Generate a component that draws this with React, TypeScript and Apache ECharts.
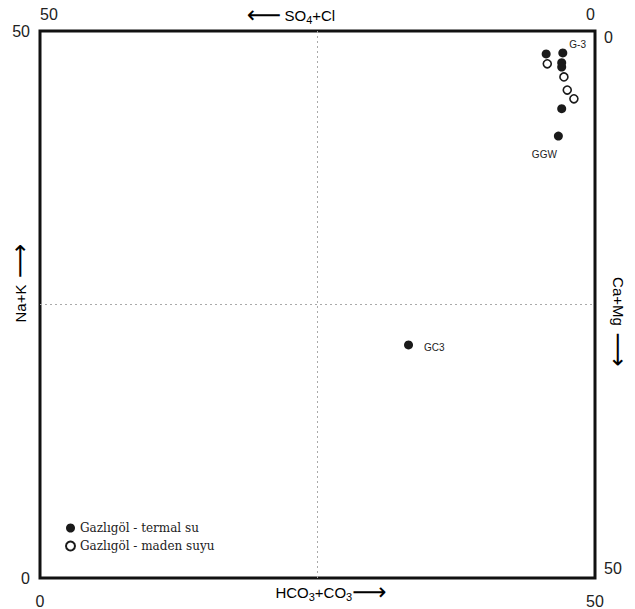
import React, { useEffect, useRef } from "react";
import * as echarts from "echarts";

// Gazlıgöl waters — Schoeller/Langelier-Ludwig square diagram (meq %)
const termalNames = ["", "G-3", "", "", "", "GGW", "GC3"];
const termalX = [45.6, 47.1, 47.0, 47.0, 47.0, 46.7, 33.2];
const termalY = [47.9, 48.0, 47.1, 46.7, 42.9, 40.4, 21.3];

const madenX = [45.7, 47.2, 47.5, 48.1];
const madenY = [47.0, 45.8, 44.6, 43.8];

const axisMin = 0;
const axisMax = 50;
const midValue = 25;
// Ca+Mg scale on the right side, 0 at the top
const rightTicks = [0, 50];

const seriesNames = ["Gazlıgöl - termal su", "Gazlıgöl - maden suyu"];

const labelFont = "Liberation Sans, Arial, sans-serif";

// label placement for the named samples
const sampleLabelStyle: Record<string, any> = {
  "G-3": { position: "right", offset: [-3, -8] },
  GGW: { position: "bottom", offset: [-14, 4] },
  GC3: { position: "right", offset: [6, 3] },
};

export default function App() {
  const ref = useRef<HTMLDivElement>(null);

  useEffect(() => {
    if (!ref.current) return;
    const chart = echarts.init(ref.current, undefined, { renderer: "svg" });

    const termalData = termalX.map((x, i) => {
      const name = termalNames[i];
      const item: any = { value: [x, termalY[i]], name };
      if (name) {
        item.label = {
          show: true,
          formatter: name,
          fontSize: 10,
          color: "#222",
          fontFamily: labelFont,
          ...sampleLabelStyle[name],
        };
      }
      return item;
    });
    const madenData = madenX.map((x, i) => [x, madenY[i]]);

    const commonAxis = {
      type: "value" as const,
      min: axisMin,
      max: axisMax,
      interval: axisMax - axisMin,
      axisLine: { show: false },
      axisTick: { show: false },
      splitLine: { show: false },
    };
    const numLabel = {
      fontSize: 16,
      color: "#222",
      fontFamily: labelFont,
      showMinLabel: true,
      showMaxLabel: true,
      hideOverlap: false,
    };

    const arrowRich = {
      a: { fontSize: 15, color: "#222", fontFamily: labelFont },
      s: { fontSize: 11, color: "#222", fontFamily: labelFont, padding: [9, 0, 0, 0] },
      r: { fontSize: 24, color: "#222", fontFamily: "DejaVu Sans" },
    };

    const titles: any[] = [
      {
        type: "text",
        x: 291,
        y: 15,
        style: {
          text: "{r|⟵} {a|SO}{s|4}{a|+Cl}",
          rich: arrowRich,
          align: "center",
          verticalAlign: "middle",
        },
      },
      {
        type: "text",
        x: 331,
        y: 592,
        style: {
          text: "{a|HCO}{s|3}{a|+CO}{s|3}{r|⟶}",
          rich: arrowRich,
          align: "center",
          verticalAlign: "middle",
        },
      },
      {
        type: "text",
        x: 20,
        y: 283,
        rotation: Math.PI / 2,
        style: {
          text: "{a|Na+K}  {r|⟶}",
          rich: arrowRich,
          align: "center",
          verticalAlign: "middle",
        },
      },
      {
        type: "text",
        x: 618,
        y: 322,
        rotation: -Math.PI / 2,
        style: {
          text: "{a|Ca+Mg}  {r|⟶}",
          rich: arrowRich,
          align: "center",
          verticalAlign: "middle",
        },
      },
    ];

    const option: any = {
      animation: false,
      backgroundColor: "#fff",
      grid: {
        left: 40,
        top: 31,
        width: 555,
        height: 547,
        show: true,
        borderColor: "#111",
        borderWidth: 3,
        backgroundColor: "transparent",
      },
      xAxis: [
        {
          ...commonAxis,
          position: "bottom",
          axisLabel: { ...numLabel, margin: 15 },
        },
        {
          ...commonAxis,
          position: "top",
          inverse: true,
          axisLabel: { ...numLabel, margin: 9, alignMinLabel: "right", alignMaxLabel: "left" },
        },
      ],
      yAxis: [
        {
          ...commonAxis,
          position: "left",
          axisLabel: { ...numLabel, margin: 10 },
        },
        {
          ...commonAxis,
          position: "right",
          inverse: true,
          axisLabel: { show: false },
        },
      ],
      legend: {
        left: 60,
        top: 517,
        orient: "vertical",
        icon: "circle",
        itemWidth: 9,
        itemHeight: 9,
        itemGap: 6,
        textStyle: { fontFamily: "DejaVu Serif, serif", fontSize: 12, color: "#222" },
        data: seriesNames,
      },
      series: [
        {
          name: seriesNames[0],
          type: "scatter",
          xAxisIndex: 0,
          yAxisIndex: 0,
          symbol: "circle",
          symbolSize: 9,
          itemStyle: { color: "#1a1a1a", opacity: 1 },
          data: termalData,
          markLine: {
            silent: true,
            symbol: "none",
            label: { show: false },
            lineStyle: { color: "#aaa", type: [2, 3], width: 1 },
            data: [{ xAxis: midValue }, { yAxis: midValue }],
          },
          z: 3,
        },
        {
          name: seriesNames[1],
          type: "scatter",
          xAxisIndex: 0,
          yAxisIndex: 0,
          symbol: "circle",
          symbolSize: 8,
          itemStyle: { color: "#fff", borderColor: "#1a1a1a", borderWidth: 1.6, opacity: 1 },
          data: madenData,
          z: 4,
        },
      ],
    };
    chart.setOption(option);

    // right-hand Ca+Mg tick labels, placed through the inverted right axis
    const rightLabels = rightTicks.map((v, i) => {
      const py = Number(chart.convertToPixel({ yAxisIndex: 1 } as any, v));
      const isTop = i === 0;
      return {
        type: "text",
        z: 50,
        x: 604,
        y: isTop ? py + 6 : py - 10,
        style: {
          text: v + "",
          fontSize: 16,
          fontFamily: labelFont,
          fill: "#222",
          align: "left",
          verticalAlign: "middle",
        },
      };
    });

    chart.setOption({ ...option, graphic: { elements: [...titles, ...rightLabels] } }, true);

    return () => chart.dispose();
  }, []);

  return (
    <div
      ref={ref}
      style={{ position: "fixed", left: 0, top: 0, width: 635, height: 609 }}
    />
  );
}
